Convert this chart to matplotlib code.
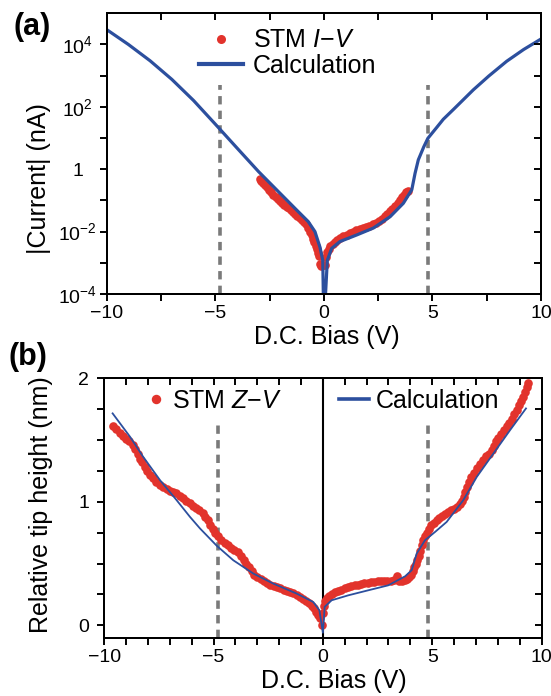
import numpy as np
import matplotlib
matplotlib.use('Agg')
import matplotlib.pyplot as plt
from matplotlib.lines import Line2D
from matplotlib.ticker import FixedLocator, NullLocator, NullFormatter, MultipleLocator

plt.rcParams['font.family'] = ['Liberation Sans', 'DejaVu Sans']
plt.rcParams['mathtext.fontset'] = 'custom'
plt.rcParams['mathtext.rm'] = 'Liberation Sans'
plt.rcParams['mathtext.it'] = 'Liberation Sans:italic'
plt.rcParams['mathtext.bf'] = 'Liberation Sans:bold'
plt.rcParams['lines.scale_dashes'] = False

# ---------------- data: panel (a) ----------------
calc_iv_x = [-10, -9, -8, -7, -6, -5, -4, -3, -2.02, -1.25,
             -0.72, -0.41, -0.18, -0.05, 0.0, 0.16, 0.36, 0.74, 1.51, 2.28, 3.05, 3.66,
             4.05, 4.2, 4.35, 4.6, 4.79, 5.2, 5.5, 6.0, 6.88, 7.6, 8.42, 9.2, 10]
calc_iv_i = [3.0e4, 1.0e4, 3.0e3, 7.6e2, 1.6e2, 28, 4.8, 0.83, 0.17, 0.049,
             0.021, 0.010, 3.2e-3, 1.2e-3, 1e-5, 1.2e-3, 2.9e-3, 4.8e-3, 7.8e-3, 0.013, 0.030, 0.081,
             0.22, 0.74, 2.0, 5.2, 9.8, 22, 40, 87, 3.5e2, 9.8e2, 2.9e3, 6.9e3, 1.5e4]

stm_iv_x = [-2.95, -2.88, -2.80, -2.72, -2.62, -2.52, -2.42, -2.32, -2.22, -2.12, -2.02, -1.92,
            -1.82, -1.72, -1.62, -1.52, -1.42, -1.32, -1.22, -1.12, -1.02, -0.92, -0.82, -0.72,
            -0.64, -0.56, -0.50, -0.44, -0.38, -0.33, -0.28, -0.24, -0.20, -0.14, -0.06, 0.04,
            0.10, 0.16, 0.22, 0.30, 0.40, 0.50, 0.62, 0.75, 0.90, 1.05, 1.20, 1.35,
            1.50, 1.65, 1.80, 1.95, 2.10, 2.25, 2.40, 2.55, 2.68, 2.80, 2.92, 3.04,
            3.16, 3.28, 3.40, 3.50, 3.60, 3.70, 3.78, 3.86]
stm_iv_i = [0.47, 0.42, 0.37, 0.32, 0.26, 0.22, 0.18, 0.15, 0.13, 0.11, 0.098, 0.085,
            0.074, 0.063, 0.056, 0.049, 0.043, 0.037, 0.032, 0.028, 0.024, 0.020, 0.017, 0.013,
            0.010, 0.0079, 0.0060, 0.0045, 0.0035, 0.0028, 0.0021, 0.0017, 0.00089, 0.00079, 0.00083, 0.00087,
            0.0015, 0.0022, 0.0028, 0.0034, 0.0040, 0.0047, 0.0054, 0.0062, 0.0071, 0.0079, 0.0089, 0.0098,
            0.011, 0.012, 0.013, 0.014, 0.015, 0.017, 0.019, 0.022, 0.026, 0.032, 0.038, 0.046,
            0.055, 0.068, 0.085, 0.10, 0.13, 0.15, 0.18, 0.20]

# ---------------- data: panel (b) ----------------
calc_zv_x = [-9.62, -8.82, -8.22, -7.45, -6.69, -6.08, -5.62, -4.86, -4.10, -3.18, -2.27, -1.20,
             -0.44, -0.16, 0.0, 0.08, 0.40, 1.16, 2.08, 2.99, 3.76, 4.06, 4.29, 4.67,
             5.13, 5.66, 6.42, 7.04, 7.80, 8.56, 9.29]
calc_zv_z = [1.716, 1.526, 1.364, 1.175, 1.013, 0.878, 0.784, 0.645, 0.527, 0.419, 0.338, 0.257,
             0.189, 0.122, -0.06, 0.15, 0.203, 0.243, 0.284, 0.324, 0.397, 0.446, 0.581, 0.689,
             0.756, 0.837, 1.013, 1.202, 1.391, 1.58, 1.756]

stm_zv_x = [-9.60, -9.45, -9.30, -9.15, -9.00, -8.85, -8.70, -8.58, -8.48, -8.38, -8.28, -8.16,
            -8.04, -7.92, -7.78, -7.62, -7.46, -7.30, -7.15, -7.00, -6.85, -6.70, -6.55, -6.40,
            -6.25, -6.10, -5.95, -5.80, -5.65, -5.50, -5.38, -5.27, -5.16, -5.05, -4.92, -4.78,
            -4.64, -4.50, -4.35, -4.20, -4.05, -3.90, -3.76, -3.63, -3.50, -3.38, -3.26, -3.14,
            -3.00, -2.85, -2.70, -2.55, -2.40, -2.25, -2.10, -1.95, -1.80, -1.65, -1.50, -1.35,
            -1.20, -1.05, -0.90, -0.76, -0.62, -0.50, -0.40, -0.30, -0.22, -0.15, -0.05,
            0.00, 0.04, 0.10, 0.20, 0.30, 0.42, 0.55, 0.70, 0.85, 1.00, 1.15, 1.30,
            1.45, 1.60, 1.75, 1.90, 2.05, 2.20, 2.35, 2.50, 2.65, 2.80, 2.95, 3.10,
            3.25, 3.38, 3.50, 3.62, 3.74, 3.86, 3.96, 4.05, 4.12, 4.18, 4.25, 4.32,
            4.40, 4.46, 4.52, 4.58, 4.66, 4.75, 4.85, 4.95, 5.07, 5.20, 5.33, 5.46,
            5.60, 5.74, 5.88, 6.02, 6.14, 6.26, 6.36, 6.44, 6.52, 6.60, 6.68, 6.78,
            6.90, 7.04, 7.18, 7.32, 7.46, 7.60, 7.72, 7.82, 7.92, 8.03, 8.15, 8.28,
            8.40, 8.52, 8.64, 8.76, 8.86, 8.96, 9.06, 9.15, 9.24, 9.32, 9.40]
stm_zv_z = [1.61, 1.59, 1.56, 1.53, 1.51, 1.49, 1.46, 1.43, 1.39, 1.35, 1.32, 1.28,
            1.25, 1.22, 1.19, 1.16, 1.14, 1.12, 1.10, 1.09, 1.08, 1.07, 1.05, 1.03,
            1.01, 0.99, 0.97, 0.95, 0.93, 0.91, 0.88, 0.85, 0.81, 0.78, 0.75, 0.72,
            0.69, 0.67, 0.65, 0.63, 0.61, 0.59, 0.56, 0.53, 0.50, 0.47, 0.44, 0.41,
            0.39, 0.375, 0.36, 0.345, 0.33, 0.32, 0.31, 0.30, 0.29, 0.28, 0.27, 0.26,
            0.245, 0.23, 0.215, 0.20, 0.18, 0.16, 0.14, 0.11, 0.085, 0.06, 0.0,
            0.10, 0.16, 0.20, 0.22, 0.24, 0.255, 0.27, 0.28, 0.29, 0.30, 0.31, 0.32,
            0.325, 0.33, 0.335, 0.34, 0.345, 0.35, 0.352, 0.355, 0.357, 0.36, 0.362, 0.363,
            0.365, 0.40, 0.36, 0.362, 0.365, 0.375, 0.39, 0.41, 0.44, 0.47, 0.50, 0.53,
            0.56, 0.60, 0.65, 0.69, 0.72, 0.75, 0.78, 0.81, 0.83, 0.85, 0.87, 0.885,
            0.90, 0.915, 0.93, 0.945, 0.96, 0.985, 1.01, 1.04, 1.08, 1.12, 1.16, 1.20,
            1.23, 1.27, 1.31, 1.34, 1.37, 1.39, 1.42, 1.45, 1.49, 1.52, 1.55, 1.58,
            1.61, 1.64, 1.67, 1.71, 1.74, 1.78, 1.82, 1.85, 1.89, 1.93, 1.96]

dash_x = [-4.8, 4.8]
dash_top_a = 490.0
dash_top_b = 1.655

ytick_a = [1e-4, 1e-2, 1, 1e2, 1e4]
ytick_a_labels = [r'$\mathregular{10^{-4}}$', r'$\mathregular{10^{-2}}$', '1',
                  r'$\mathregular{10^{2}}$', r'$\mathregular{10^{4}}$']
ytick_a_minor = [1e-3, 1e-1, 1e1, 1e3]
ytick_a_right = [1e-4, 1e-3, 1e-2, 1e-1, 1, 1e1, 1e2, 1e3, 1e4]
xticks = [-10, -5, 0, 5, 10]
ytick_b = [0, 1, 2]

RED = '#e2332c'
BLUE = '#2c4f9e'
GRAY = '#7a7a7a'

W, H = 551, 696
fig = plt.figure(figsize=(W / 100, H / 100), dpi=100)


def px_axes(l, t, r, b):
    return [l / W, 1 - b / H, (r - l) / W, (b - t) / H]


axa = fig.add_axes(px_axes(106.7, 13.3, 541, 294))
axb = fig.add_axes(px_axes(104.3, 378.3, 541.5, 637.7))

SPW = 1.4
TL = 5
TKW = 1.4

# ---------------- panel (a) ----------------
axa.set_yscale('log')
axa.vlines(dash_x, 1e-4, dash_top_a, colors=GRAY, linestyles=(0, (6, 4.5)), linewidth=2.6, zorder=1)
axa.plot(stm_iv_x, stm_iv_i, 'o', color=RED, ms=6.2, mec='none', zorder=2)
axa.plot(calc_iv_x, calc_iv_i, '-', color=BLUE, lw=2.3, zorder=3, solid_joinstyle='round')
axa.set_xlim(-10, 10)
axa.set_ylim(1e-4, 1e5)
axa.yaxis.set_major_locator(FixedLocator(ytick_a))
axa.set_yticklabels(ytick_a_labels)
axa.yaxis.set_minor_locator(FixedLocator(ytick_a_minor))
axa.yaxis.set_minor_formatter(NullFormatter())
axa.set_xticks(xticks)
axa.xaxis.set_minor_locator(MultipleLocator(2.5))
axa.tick_params(which='both', direction='out', length=TL, width=TKW, top=False, right=False, labelsize=14)
axa.tick_params(axis='y', which='major', pad=16)
axa.tick_params(axis='x', which='major', pad=3)
for t in axa.get_yticklabels():
    t.set_horizontalalignment('center')
for s in axa.spines.values():
    s.set_linewidth(SPW)

ra = axa.twinx()
ra.set_yscale('log')
ra.set_ylim(1e-4, 1e5)
ra.yaxis.set_major_locator(FixedLocator(ytick_a_right))
ra.yaxis.set_minor_locator(NullLocator())
ra.tick_params(axis='y', direction='in', length=TL, width=TKW, labelright=False)
ta = axa.twiny()
ta.set_xlim(-10, 10)
ta.xaxis.set_major_locator(MultipleLocator(2.5))
ta.tick_params(axis='x', direction='in', length=TL, width=TKW, labeltop=False)
for tw in (ra, ta):
    for s in tw.spines.values():
        s.set_linewidth(SPW)

axa.set_ylabel('|Current| (nA)', fontsize=18)
axa.yaxis.set_label_coords(-0.128, 0.413)
axa.set_xlabel('D.C. Bias (V)', fontsize=18)
axa.xaxis.set_label_coords(0.507, -0.112)

h_dot = Line2D([], [], ls='none', marker='o', color=RED, ms=6.5, mec='none')
h_line_a = Line2D([], [], color=BLUE, lw=3.0)
leg_a = ta.legend([h_dot, h_line_a], ['STM $I$\u2212$V$', 'Calculation'], fontsize=18,
                  loc='center left', bbox_to_anchor=(0.2116, 0.8586), bbox_transform=axa.transAxes,
                  frameon=False, handlelength=1.76, handletextpad=0.42, labelspacing=0.05,
                  borderpad=0, borderaxespad=0)

# ---------------- panel (b) ----------------
axb.vlines(dash_x, -0.1, dash_top_b, colors=GRAY, linestyles=(0, (6, 4.5)), linewidth=2.6, zorder=1)
axb.axvline(0, color='black', lw=1.5, zorder=2)
axb.plot(stm_zv_x, stm_zv_z, 'o', color=RED, ms=6.2, mec='none', zorder=3)
axb.plot(calc_zv_x, calc_zv_z, '-', color=BLUE, lw=1.3, zorder=4)
axb.set_xlim(-10, 10)
axb.set_ylim(-0.1, 2.0)
axb.set_yticks(ytick_b)
axb.yaxis.set_minor_locator(MultipleLocator(0.25))
axb.set_xticks(xticks)
axb.xaxis.set_minor_locator(MultipleLocator(1))
axb.tick_params(which='both', direction='out', length=TL, width=TKW, top=False, right=False, labelsize=14)
axb.tick_params(axis='y', which='major', pad=6)
axb.tick_params(axis='x', which='major', pad=3)
for s in axb.spines.values():
    s.set_linewidth(SPW)

rb = axb.twinx()
rb.set_ylim(-0.1, 2.0)
rb.yaxis.set_major_locator(MultipleLocator(0.25))
rb.tick_params(axis='y', direction='in', length=TL, width=TKW, labelright=False)
tb = axb.twiny()
tb.set_xlim(-10, 10)
tb.xaxis.set_major_locator(MultipleLocator(1))
tb.tick_params(axis='x', direction='in', length=TL, width=TKW, labeltop=False)
for tw in (rb, tb):
    for s in tw.spines.values():
        s.set_linewidth(SPW)

axb.set_ylabel('Relative tip height (nm)', fontsize=18)
axb.yaxis.set_label_coords(-0.117, 0.512)
axb.set_xlabel('D.C. Bias (V)', fontsize=18)
axb.xaxis.set_label_coords(0.525, -0.122)

h_dot_b = Line2D([], [], ls='none', marker='o', color=RED, ms=6.8, mec='none')
h_line_b = Line2D([], [], color=BLUE, lw=2.6)
leg_b1 = tb.legend([h_dot_b], ['STM $Z$\u2212$V$'], fontsize=18,
                   loc='center left', bbox_to_anchor=(0.1004, 0.9125), bbox_transform=axb.transAxes,
                   frameon=False, handlelength=0.6, handletextpad=0.36,
                   borderpad=0, borderaxespad=0)
tb.add_artist(leg_b1)
tb.legend([h_line_b], ['Calculation'], fontsize=18,
          loc='center left', bbox_to_anchor=(0.537, 0.9125), bbox_transform=axb.transAxes,
          frameon=False, handlelength=1.2, handletextpad=0.26,
          borderpad=0, borderaxespad=0)

fig.text(13.3 / W, 1 - 27.5 / H, '(a)', fontsize=22, fontweight='bold', ha='left', va='center')
fig.text(9 / W, 1 - 357.5 / H, '(b)', fontsize=22, fontweight='bold', ha='left', va='center')

fig.savefig('out.png', dpi=100)
